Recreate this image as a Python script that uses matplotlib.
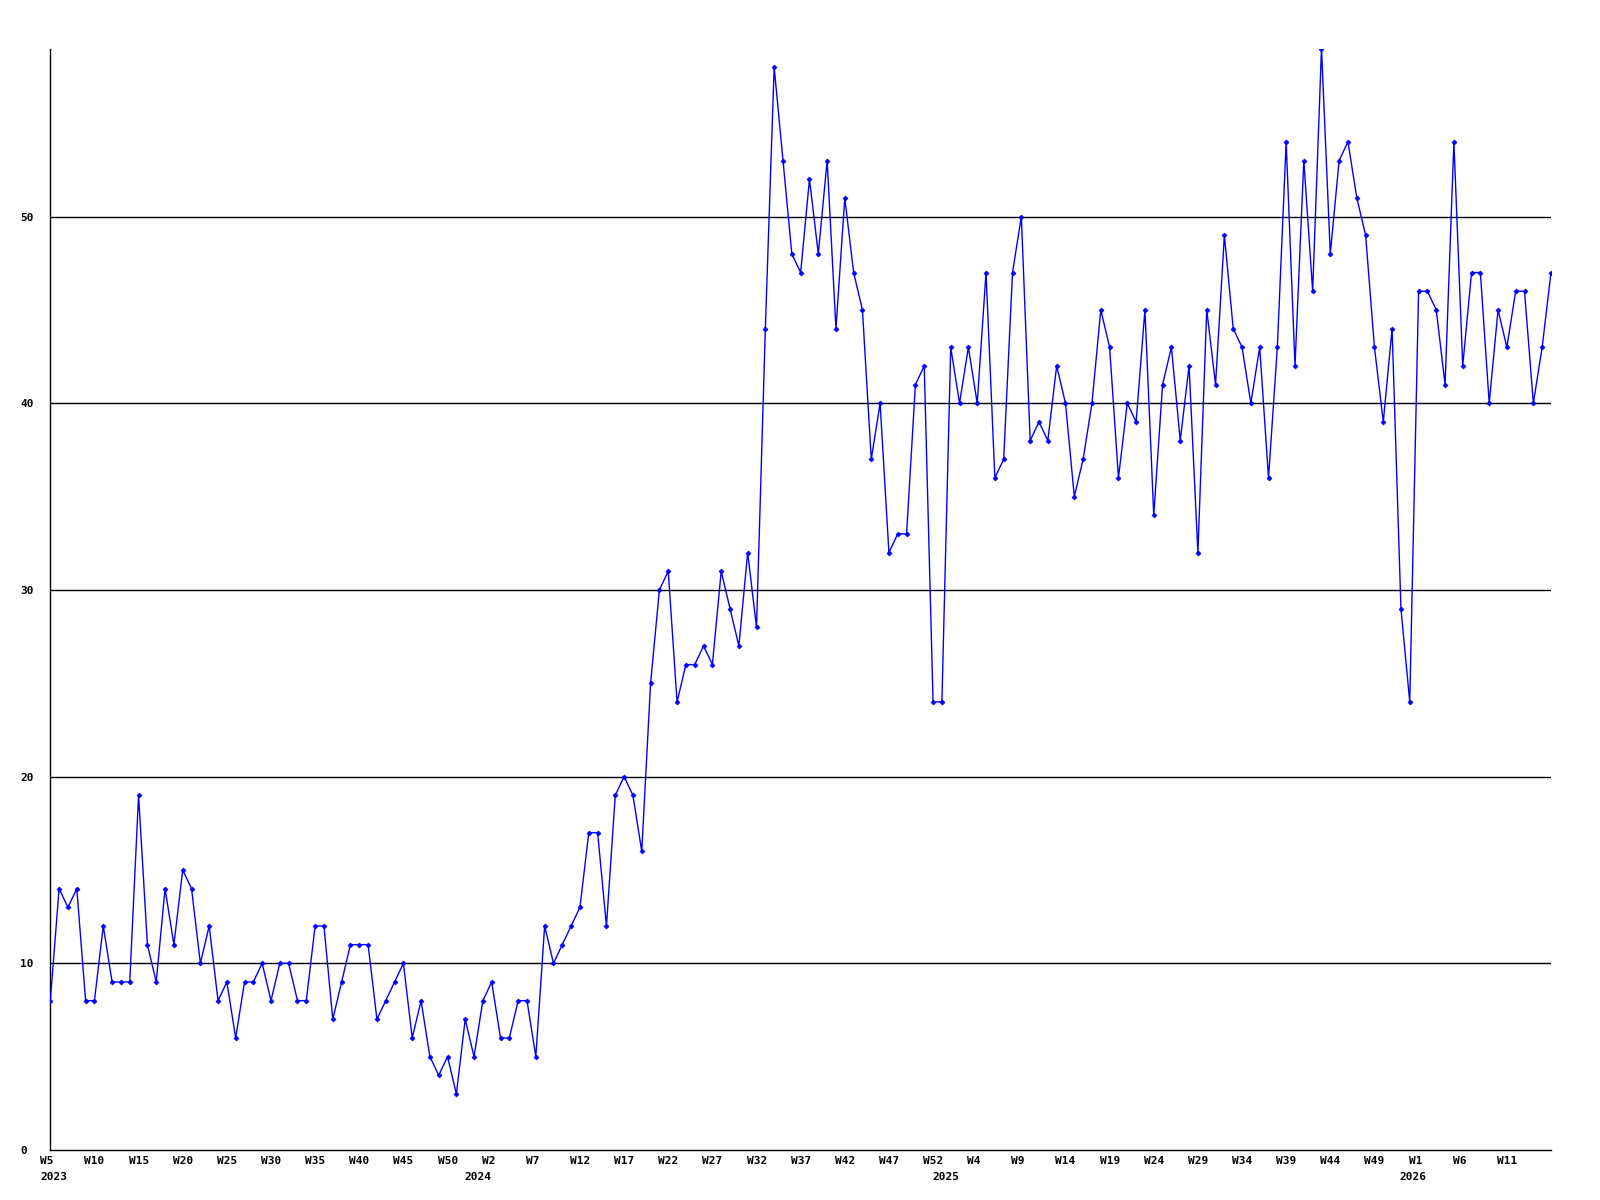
import matplotlib
matplotlib.use("Agg")
import matplotlib.pyplot as plt
import matplotlib.transforms as mtransforms

# -----------------------------
# Data (weekly values)
# -----------------------------
values_2023 = [8, 14, 13, 14, 8, 8, 12, 9, 9, 9, 19, 11, 9, 14, 11, 15, 14, 10, 12, 8,
               9, 6, 9, 9, 10, 8, 10, 10, 8, 8, 12, 12, 7, 9, 11, 11, 11, 7, 8, 9,
               10, 6, 8, 5, 4, 5, 3, 7]
values_2024 = [5, 8, 9, 6, 6, 8, 8, 5, 12, 10, 11, 12, 13, 17, 17, 12, 19, 20, 19, 16,
               25, 30, 31, 24, 26, 26, 27, 26, 31, 29, 27, 32, 28, 44, 58, 53, 48, 47, 52, 48,
               53, 44, 51, 47, 45, 37, 40, 32, 33, 33, 41, 42, 24]
values_2025 = [24, 43, 40, 43, 40, 47, 36, 37, 47, 50, 38, 39, 38, 42, 40, 35, 37, 40, 45, 43,
               36, 40, 39, 45, 34, 41, 43, 38, 42, 32, 45, 41, 49, 44, 43, 40, 43, 36, 43, 54,
               42, 53, 46, 59, 48, 53, 54, 51, 49, 43, 39, 44, 29]
values_2026 = [24, 46, 46, 45, 41, 54, 42, 47, 47, 40, 45, 43, 46, 46, 40, 43, 47]

values = values_2023 + values_2024 + values_2025 + values_2026

week_labels = ["W5", "W10", "W15", "W20", "W25", "W30", "W35", "W40", "W45", "W50",
               "W2", "W7", "W12", "W17", "W22", "W27", "W32", "W37", "W42", "W47",
               "W52", "W4", "W9", "W14", "W19", "W24", "W29", "W34", "W39", "W44",
               "W49", "W1", "W6", "W11"]
year_labels = ["2023", "2024", "2025", "2026"]
year_positions = [0, 48, 101, 154]

y_ticks = [0, 10, 20, 30, 40, 50]

# -----------------------------
# Plot
# -----------------------------
font = {"family": "DejaVu Sans Mono", "weight": "bold", "size": 8}

fig = plt.figure(figsize=(16, 12), dpi=100)
ax = fig.add_axes([50.3 / 1600, 50 / 1200, (1551 - 50.3) / 1600, (1150 - 48.5) / 1200])

x = list(range(len(values)))
for yt in y_ticks[1:]:
    ax.axhline(yt, color="black", linewidth=1.0, zorder=1)
ax.plot(x, values, color="#0000ff", linewidth=1.0, marker="D", markersize=2.6,
        markeredgewidth=0.4, zorder=3)

ax.set_xlim(0, len(values) - 1)
ax.set_ylim(0, max(values))

for side in ["top", "right"]:
    ax.spines[side].set_visible(False)
for side in ["left", "bottom"]:
    ax.spines[side].set_color("black")
    ax.spines[side].set_linewidth(1.0)

# x labels: left aligned, shifted slightly left of the point
ax.set_xticks([5 * i for i in range(len(week_labels))])
ax.set_xticklabels(week_labels, fontdict=font)
ax.tick_params(axis="x", length=0, pad=4.5)
shift = mtransforms.ScaledTranslation(-10 / 100, 0, fig.dpi_scale_trans)
for lab in ax.get_xticklabels():
    lab.set_ha("left")
    lab.set_transform(lab.get_transform() + shift)

for yr, pos in zip(year_labels, year_positions):
    ax.annotate(yr, xy=(pos, 0), xycoords=("data", "axes fraction"),
                xytext=(-7.2, -19.1), textcoords="offset points",
                ha="left", va="center", **font)

# y labels: left aligned at x ~ 20px
ax.set_yticks(y_ticks)
ax.set_yticklabels([str(v) for v in y_ticks], fontdict=font)
ax.tick_params(axis="y", length=0, pad=21.8)
for lab in ax.get_yticklabels():
    lab.set_ha("left")

fig.savefig("out.png", dpi=100, facecolor="white")
plt.close(fig)
